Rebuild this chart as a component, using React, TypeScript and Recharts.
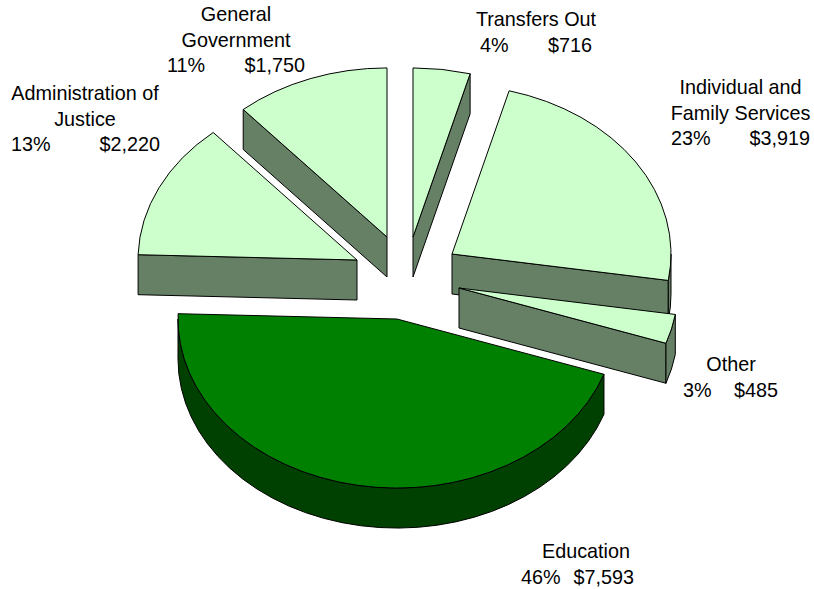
import { PieChart, Pie } from 'recharts'

// clockwise from 12 o'clock, which is also back-to-front paint order
const categories = ['Transfers Out', 'Individual and Family Services', 'Other', 'Education', 'Administration of Justice', 'General Government']
const amounts = [716, 3919, 485, 7593, 2220, 1750]
const percents = [4, 23, 3, 46, 13, 11]
// share of the pie each slice is actually drawn at
// (General Government is drawn wider than its $1,750 label would give)
const drawnShares = [4.2, 23.3, 2.8, 45.2, 13.1, 11.4]

const chartData = categories.map((name, i) => ({ name, amount: amounts[i], percent: percents[i], share: drawnShares[i] }))

const WIDTH = 814
const HEIGHT = 589
const CX = 405
const CY = 265
const RADIUS = 219
const SQUASH = 0.772
const DEPTH = 40

const TOP_LIGHT = '#ccffcc'
const WALL_LIGHT = '#668066'
const TOP_DARK = '#008000'
const WALL_DARK = '#004000'

// how far each slice is pulled out of the pie, in px
const explode: Record<string, [number, number]> = {
  'Transfers Out': [8, -28],
  'Individual and Family Services': [47, -11],
  Other: [54, 23],
  Education: [-8, 54],
  'Administration of Justice': [-48, -5],
  'General Government': [-18, -28],
}

// wrapped name lines and where each label sits
const labelLayout: Record<string, { lines: string[]; cx: number; y: number; left: number; right: number }> = {
  'Transfers Out': { lines: ['Transfers Out'], cx: 536, y: 26, left: 480, right: 592 },
  'Individual and Family Services': { lines: ['Individual and', 'Family Services'], cx: 740.5, y: 94, left: 671, right: 810 },
  Other: { lines: ['Other'], cx: 731, y: 371, left: 683, right: 778 },
  Education: { lines: ['Education'], cx: 586, y: 558, left: 521, right: 634 },
  'Administration of Justice': { lines: ['Administration of', 'Justice'], cx: 85, y: 100, left: 11, right: 160 },
  'General Government': { lines: ['General', 'Government'], cx: 236, y: 21, left: 167, right: 305 },
}

const rad = (deg: number) => (deg * Math.PI) / 180

function Slice3D(props: any) {
  const { startAngle, endAngle, cx, cy, outerRadius, payload } = props
  const name = payload.name ?? props.name
  const [dx, dy] = explode[name]
  const ax = cx + dx
  const ay = cy + dy
  const rx = outerRadius
  const ry = outerRadius * SQUASH
  const isEducation = name === 'Education'
  const top = isEducation ? TOP_DARK : TOP_LIGHT
  const wall = isEducation ? WALL_DARK : WALL_LIGHT

  // angles clockwise from 12 o'clock
  const t0 = 90 - startAngle
  const t1 = 90 - endAngle
  const pt = (t: number, drop = 0): [number, number] => [ax + rx * Math.sin(rad(t)), ay - ry * Math.cos(rad(t)) + drop]
  const radialWall = (t: number) => {
    const [x, y] = pt(t)
    return `M${ax},${ay} L${x},${y} L${x},${y + DEPTH} L${ax},${ay + DEPTH} Z`
  }

  const a = Math.max(t0, 90)
  const b = Math.min(t1, 270)
  const [p0x, p0y] = pt(t0)
  const [p1x, p1y] = pt(t1)
  const large = t1 - t0 > 180 ? 1 : 0

  return (
    <g>
      {Math.sin(rad(t0)) < -0.001 && <path d={radialWall(t0)} fill={wall} stroke="#000" strokeWidth={1} />}
      {Math.sin(rad(t1)) > 0.001 && <path d={radialWall(t1)} fill={wall} stroke="#000" strokeWidth={1} />}
      {b > a && (
        <path
          d={`M${pt(a).join(',')} A${rx},${ry} 0 ${b - a > 180 ? 1 : 0} 1 ${pt(b).join(',')} L${pt(b, DEPTH).join(',')} A${rx},${ry} 0 ${b - a > 180 ? 1 : 0} 0 ${pt(a, DEPTH).join(',')} Z`}
          fill={wall}
          stroke="#000"
          strokeWidth={1}
        />
      )}
      <path
        d={`M${ax},${ay} L${p0x},${p0y} A${rx},${ry} 0 ${large} 1 ${p1x},${p1y} Z`}
        fill={top}
        stroke="#000"
        strokeWidth={1}
        strokeLinejoin="round"
      />
    </g>
  )
}

function SliceLabel(props: any) {
  const { payload } = props
  const name = payload.name ?? props.name
  const layout = labelLayout[name]
  const textProps = { fontFamily: '"Liberation Sans", Arial, sans-serif', fontSize: 19.8, fill: '#000' }
  const lastY = layout.y + layout.lines.length * 25.5
  return (
    <g>
      {layout.lines.map((line, i) => (
        <text key={line} x={layout.cx} y={layout.y + i * 25.5} textAnchor="middle" {...textProps}>
          {line}
        </text>
      ))}
      <text x={layout.left} y={lastY} textAnchor="start" {...textProps}>
        {payload.percent}%
      </text>
      <text x={layout.right} y={lastY} textAnchor="end" {...textProps}>
        ${payload.amount.toLocaleString('en-US')}
      </text>
    </g>
  )
}

export default function App() {
  return (
    <div style={{ position: 'absolute', left: 0, top: 0, width: WIDTH, height: HEIGHT, background: '#fff' }}>
      <PieChart width={WIDTH} height={HEIGHT} margin={{ top: 0, right: 0, bottom: 0, left: 0 }}>
        <Pie
          data={chartData}
          dataKey="share"
          nameKey="name"
          cx={CX}
          cy={CY}
          innerRadius={0}
          outerRadius={RADIUS}
          startAngle={90}
          endAngle={-270}
          paddingAngle={0}
          isAnimationActive={false}
          shape={Slice3D}
          label={SliceLabel}
          labelLine={false}
        />
      </PieChart>
    </div>
  )
}
